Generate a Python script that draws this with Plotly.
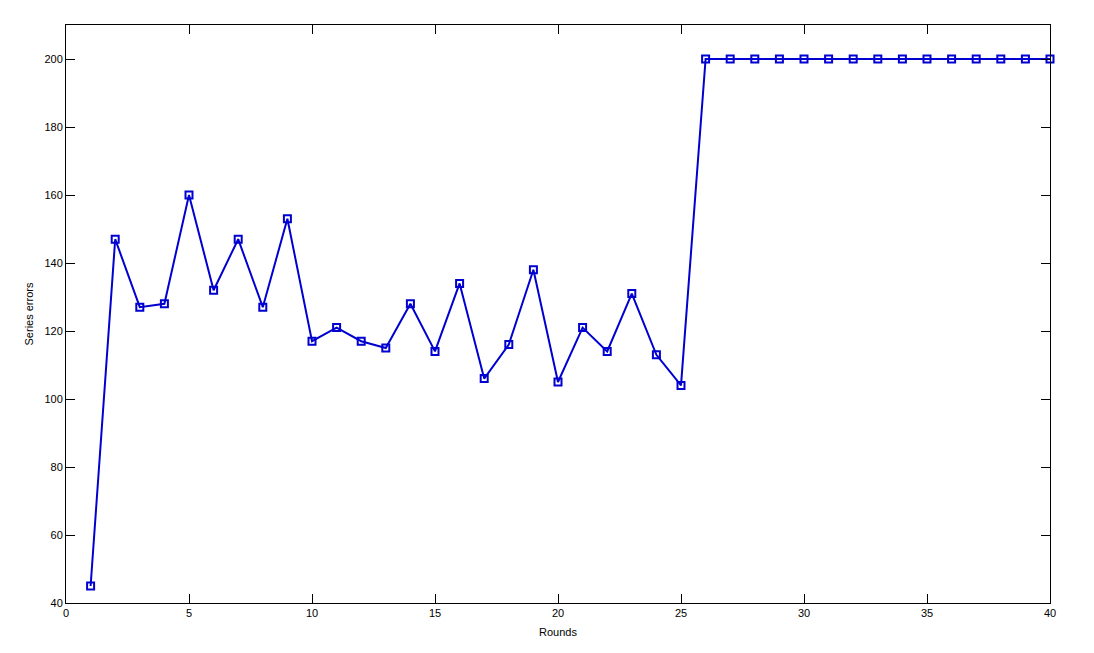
import plotly.graph_objects as go

rounds = list(range(1, 41))
errors = [45, 147, 127, 128, 160, 132, 147, 127, 153, 117,
          121, 117, 115, 128, 114, 134, 106, 116, 138, 105,
          121, 114, 131, 113, 104] + [200] * 15

x_ticks = [0, 5, 10, 15, 20, 25, 30, 35, 40]
y_ticks = [40, 60, 80, 100, 120, 140, 160, 180, 200]

blue = "#0000d0"
fig = go.Figure()
fig.add_trace(go.Scatter(
    x=rounds, y=errors, mode="lines+markers",
    line=dict(color=blue, width=2),
    marker=dict(symbol="square-open", size=7, color=blue, line=dict(width=2, color=blue)),
    showlegend=False, cliponaxis=False,
))

font = dict(family="Arial, Liberation Sans, sans-serif", size=11, color="black")
axis_common = dict(
    showgrid=False, zeroline=False, showline=True, linecolor="black", linewidth=1,
    mirror="ticks", ticks="inside", ticklen=9, tickcolor="black", tickwidth=1,
    tickfont=font,
)
fig.update_xaxes(range=[0, 40], tickvals=x_ticks,
                 title=dict(text="Rounds", font=font, standoff=10),
                 **axis_common)
fig.update_yaxes(range=[40, 210], tickvals=y_ticks,
                 title=dict(text="Series errors", font=font, standoff=8),
                 **axis_common)
fig.update_layout(
    width=1094, height=653,
    margin=dict(l=58, r=52, t=17, b=58),
    plot_bgcolor="white", paper_bgcolor="white",
)
fig.write_html("out.html")
